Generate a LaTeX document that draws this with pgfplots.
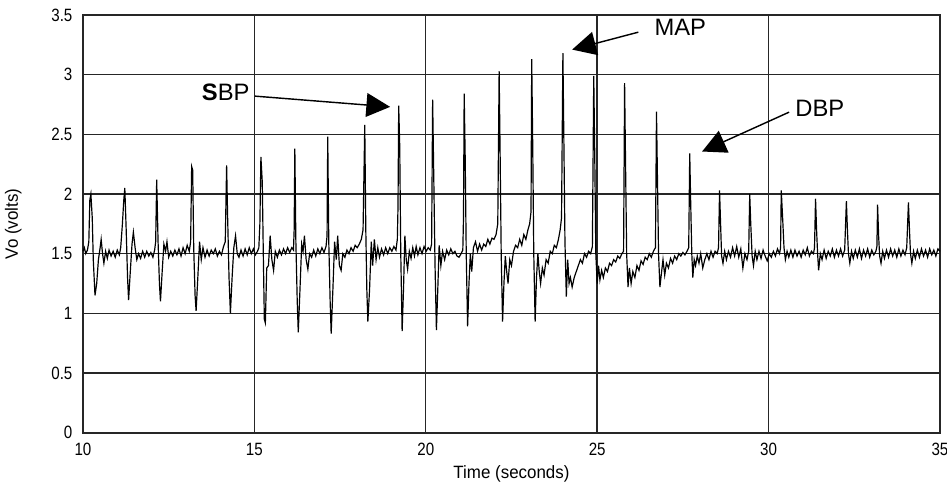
\documentclass[border=0pt]{standalone}
\usepackage{fontspec}
\setmainfont{Liberation Sans}
\newfontfamily\narrowfont[FakeStretch=0.85]{Liberation Sans}
\newfontfamily\labelfont[FakeStretch=0.95]{Liberation Sans}
\usepackage{pgfplots}
\pgfplotsset{compat=1.18}
\usetikzlibrary{arrows.meta}

\begin{document}
\begin{tikzpicture}
\begin{axis}[
  name=main,
  scale only axis,
  width=12.68cm, height=6.18cm,
  xmin=10, xmax=35, ymin=0, ymax=3.5,
  xtick={10,15,20,25,30,35},
  ytick={0,0.5,1,1.5,2,2.5,3,3.5},
  yticklabels={0,0.5,1,1.5,2,2.5,3,3.5},
  grid=major, grid style={black!85,line width=0.6pt},
  axis line style={black!85,line width=0.8pt},
  major tick length=0pt,
  tick label style={font=\narrowfont\fontsize{7.5}{8}\selectfont, inner sep=0pt},
  xticklabel style={anchor=center, yshift=-0.25cm},
  yticklabel style={anchor=east, xshift=-0.15cm},
  /pgf/number format/assume math mode=true,
  xlabel={Time (seconds)}, ylabel={Vo (volts)},
  xlabel style={at={(rel axis cs:0.5,0)}, anchor=center, yshift=-0.61cm,
    font=\labelfont\fontsize{7.5}{8}\selectfont, inner sep=0pt},
  ylabel style={at={(rel axis cs:0,0.5)}, anchor=center, rotate=0, yshift=1.03cm,
    font=\labelfont\fontsize{7.5}{8}\selectfont, inner sep=0pt},
  clip=false]

\addplot[black, line width=0.5pt] coordinates {
(10.00,1.52) (10.04,1.55) (10.08,1.50) (10.13,1.53) (10.17,1.60) (10.20,1.95) (10.23,2.00) (10.27,1.80) (10.30,1.45) (10.35,1.15) (10.40,1.25) (10.45,1.45) (10.50,1.55) (10.53,1.62) (10.57,1.50) (10.61,1.42) (10.66,1.52) (10.71,1.46) (10.76,1.53) (10.82,1.48) (10.88,1.52) (10.94,1.47) (11.00,1.53) (11.06,1.49)
(11.10,1.55) (11.15,1.75) (11.19,1.95) (11.22,2.05) (11.26,1.70) (11.30,1.30) (11.33,1.11) (11.38,1.35) (11.43,1.58) (11.47,1.68) (11.52,1.55) (11.57,1.45) (11.62,1.50) (11.68,1.46) (11.74,1.52) (11.80,1.47) (11.86,1.52) (11.92,1.48) (11.98,1.51) (12.04,1.47) (12.09,1.53)
(12.12,1.60) (12.15,2.12) (12.19,1.60) (12.23,1.25) (12.26,1.10) (12.31,1.35) (12.36,1.58) (12.41,1.52) (12.45,1.60) (12.50,1.47) (12.56,1.52) (12.62,1.48) (12.68,1.53) (12.74,1.49) (12.80,1.54) (12.86,1.48) (12.92,1.55) (12.98,1.50) (13.04,1.57) (13.10,1.52)
(13.14,1.60) (13.17,2.23) (13.20,2.20) (13.23,1.55) (13.27,1.15) (13.30,1.02) (13.35,1.30) (13.40,1.60) (13.45,1.45) (13.50,1.55) (13.56,1.47) (13.62,1.53) (13.68,1.48) (13.74,1.53) (13.80,1.50) (13.86,1.54) (13.92,1.48) (13.98,1.52) (14.04,1.49) (14.10,1.56)
(14.15,1.60) (14.19,2.24) (14.22,1.80) (14.26,1.30) (14.30,1.00) (14.35,1.30) (14.40,1.55) (14.45,1.65) (14.50,1.50) (14.55,1.47) (14.61,1.53) (14.67,1.48) (14.73,1.54) (14.79,1.49) (14.85,1.55) (14.91,1.50) (14.97,1.54) (15.03,1.49) (15.09,1.52) (15.13,1.55)
(15.16,1.75) (15.19,2.31) (15.23,2.10) (15.26,1.50) (15.29,0.95) (15.32,0.92) (15.36,1.38) (15.41,1.40) (15.46,1.65) (15.51,1.45) (15.56,1.36) (15.61,1.52) (15.67,1.47) (15.73,1.53) (15.79,1.49) (15.85,1.54) (15.91,1.50) (15.97,1.55) (16.03,1.51) (16.09,1.55) (16.14,1.53)
(16.16,1.70) (16.18,2.38) (16.21,1.60) (16.25,1.10) (16.28,0.84) (16.33,1.20) (16.38,1.58) (16.42,1.52) (16.46,1.65) (16.51,1.45) (16.56,1.37) (16.61,1.50) (16.67,1.47) (16.73,1.53) (16.79,1.48) (16.85,1.54) (16.91,1.50) (16.97,1.55) (17.03,1.51) (17.09,1.56)
(17.12,1.65) (17.14,2.48) (17.17,1.60) (17.21,1.10) (17.24,0.83) (17.29,1.20) (17.34,1.60) (17.39,1.45) (17.43,1.65) (17.48,1.40) (17.53,1.36) (17.58,1.50) (17.64,1.47) (17.70,1.53) (17.76,1.50) (17.82,1.55) (17.88,1.52) (17.94,1.57) (18.00,1.55) (18.06,1.58) (18.12,1.62) (18.17,1.70)
(18.22,2.58) (18.25,1.70) (18.28,1.20) (18.31,0.93) (18.36,1.20) (18.41,1.60) (18.45,1.40) (18.50,1.62) (18.55,1.45) (18.60,1.55) (18.65,1.47) (18.71,1.54) (18.77,1.49) (18.83,1.55) (18.89,1.50) (18.95,1.55) (19.01,1.52) (19.07,1.56) (19.13,1.53) (19.17,1.62)
(19.19,1.90) (19.21,2.74) (19.24,2.40) (19.27,1.50) (19.31,0.85) (19.35,1.20) (19.39,1.65) (19.43,1.45) (19.47,1.37) (19.52,1.52) (19.57,1.46) (19.62,1.55) (19.67,1.48) (19.72,1.56) (19.77,1.49) (19.83,1.55) (19.89,1.50) (19.95,1.56) (20.01,1.52) (20.07,1.55) (20.13,1.53) (20.17,1.58)
(20.20,2.79) (20.23,2.20) (20.27,1.40) (20.31,0.86) (20.35,1.20) (20.39,1.57) (20.44,1.40) (20.49,1.52) (20.55,1.45) (20.61,1.53) (20.67,1.49) (20.73,1.54) (20.79,1.50) (20.85,1.52) (20.91,1.48) (20.97,1.47) (21.03,1.50) (21.08,1.53)
(21.10,1.80) (21.12,2.84) (21.15,2.30) (21.18,1.50) (21.22,0.89) (21.26,1.25) (21.30,1.50) (21.34,1.35) (21.39,1.55) (21.45,1.60) (21.51,1.52) (21.57,1.58) (21.63,1.53) (21.69,1.58) (21.75,1.56) (21.81,1.62) (21.87,1.58) (21.93,1.63) (21.99,1.62) (22.05,1.66) (22.10,1.75)
(22.14,3.03) (22.17,2.30) (22.20,1.50) (22.24,0.93) (22.28,1.25) (22.32,1.48) (22.36,1.35) (22.40,1.25) (22.45,1.45) (22.50,1.40) (22.56,1.52) (22.62,1.57) (22.68,1.55) (22.74,1.62) (22.80,1.57) (22.86,1.66) (22.92,1.62) (22.98,1.70) (23.03,1.75) (23.07,1.85)
(23.09,3.13) (23.12,2.40) (23.15,1.50) (23.19,0.93) (23.23,1.30) (23.27,1.50) (23.31,1.35) (23.35,1.25) (23.40,1.38) (23.45,1.32) (23.51,1.45) (23.57,1.42) (23.63,1.52) (23.69,1.50) (23.75,1.57) (23.81,1.55) (23.87,1.62) (23.92,1.70) (23.96,1.80)
(24.00,3.18) (24.03,2.40) (24.06,1.60) (24.10,1.14) (24.14,1.45) (24.18,1.25) (24.22,1.30) (24.27,1.22) (24.33,1.30) (24.39,1.35) (24.45,1.40) (24.51,1.45) (24.57,1.42) (24.63,1.50) (24.69,1.47) (24.75,1.52) (24.81,1.50) (24.86,1.56)
(24.90,2.99) (24.93,2.30) (24.96,1.50) (25.00,1.25) (25.04,1.40) (25.08,1.28) (25.13,1.36) (25.18,1.30) (25.24,1.38) (25.30,1.35) (25.36,1.42) (25.42,1.40) (25.48,1.45) (25.54,1.43) (25.60,1.48) (25.66,1.46) (25.72,1.50) (25.77,1.52)
(25.80,2.93) (25.83,2.20) (25.86,1.50) (25.90,1.22) (25.94,1.38) (25.99,1.25) (26.04,1.35) (26.10,1.30) (26.16,1.40) (26.22,1.36) (26.28,1.44) (26.34,1.41) (26.40,1.47) (26.46,1.45) (26.52,1.50) (26.58,1.47) (26.64,1.52) (26.70,1.55)
(26.73,2.69) (26.76,2.10) (26.79,1.50) (26.83,1.22) (26.88,1.35) (26.92,1.45) (26.97,1.32) (27.02,1.42) (27.08,1.38) (27.14,1.46) (27.20,1.42) (27.26,1.48) (27.32,1.45) (27.38,1.50) (27.44,1.48) (27.50,1.51) (27.56,1.49) (27.62,1.52) (27.67,1.55)
(27.70,2.34) (27.73,1.90) (27.76,1.50) (27.79,1.30) (27.83,1.45) (27.87,1.40) (27.92,1.48) (27.97,1.42) (28.02,1.50) (28.08,1.38) (28.14,1.45) (28.20,1.50) (28.26,1.45) (28.32,1.52) (28.38,1.47) (28.44,1.52) (28.50,1.50) (28.54,1.55)
(28.57,2.03) (28.60,1.75) (28.63,1.48) (28.67,1.42) (28.72,1.52) (28.77,1.45) (28.83,1.52) (28.89,1.47) (28.95,1.55) (29.01,1.48) (29.07,1.56) (29.13,1.47) (29.19,1.54) (29.25,1.38) (29.31,1.50) (29.37,1.45) (29.42,1.52)
(29.45,2.00) (29.48,1.75) (29.52,1.48) (29.56,1.40) (29.61,1.52) (29.66,1.45) (29.72,1.52) (29.78,1.46) (29.84,1.53) (29.90,1.48) (29.96,1.44) (30.02,1.50) (30.08,1.47) (30.14,1.52) (30.20,1.48) (30.26,1.54) (30.32,1.50) (30.35,1.55)
(30.37,2.03) (30.41,1.80) (30.45,1.55) (30.49,1.45) (30.54,1.52) (30.59,1.47) (30.65,1.53) (30.71,1.47) (30.77,1.53) (30.83,1.48) (30.89,1.52) (30.95,1.47) (31.01,1.53) (31.07,1.49) (31.13,1.55) (31.19,1.48) (31.25,1.52) (31.31,1.50) (31.34,1.55)
(31.37,1.96) (31.40,1.70) (31.43,1.50) (31.46,1.36) (31.51,1.50) (31.56,1.45) (31.62,1.53) (31.68,1.46) (31.74,1.52) (31.80,1.48) (31.86,1.54) (31.92,1.47) (31.98,1.53) (32.04,1.48) (32.10,1.54) (32.16,1.48) (32.22,1.53)
(32.27,1.94) (32.30,1.70) (32.33,1.50) (32.37,1.42) (32.42,1.52) (32.47,1.46) (32.53,1.53) (32.59,1.47) (32.65,1.54) (32.71,1.46) (32.77,1.53) (32.83,1.48) (32.89,1.54) (32.95,1.47) (33.01,1.53) (33.07,1.49) (33.13,1.52) (33.16,1.56)
(33.18,1.91) (33.21,1.65) (33.24,1.48) (33.28,1.42) (33.33,1.52) (33.38,1.46) (33.44,1.53) (33.50,1.47) (33.56,1.54) (33.62,1.48) (33.68,1.53) (33.74,1.47) (33.80,1.54) (33.86,1.48) (33.92,1.53) (33.98,1.49) (34.03,1.55)
(34.08,1.93) (34.11,1.70) (34.14,1.50) (34.18,1.42) (34.23,1.52) (34.28,1.46) (34.34,1.53) (34.40,1.47) (34.46,1.54) (34.52,1.48) (34.58,1.53) (34.64,1.47) (34.70,1.54) (34.76,1.49) (34.82,1.53) (34.88,1.48) (34.94,1.54) (35.00,1.52)
};

% annotations
\node[anchor=east, inner sep=0pt, font=\fontsize{10}{12}\selectfont] at (axis cs:14.87,2.85) {\textbf{S}BP};
\draw[line width=0.6pt, -{Triangle[length=10pt,width=10pt]}] (axis cs:15.02,2.82) -- (axis cs:18.96,2.73);
\node[anchor=west, inner sep=0pt, font=\fontsize{10}{12}\selectfont] at (axis cs:26.66,3.40) {MAP};
\draw[line width=0.6pt, -{Triangle[length=10pt,width=10pt]}] (axis cs:26.20,3.356) -- (axis cs:24.27,3.21);
\node[anchor=west, inner sep=0pt, font=\fontsize{10}{12}\selectfont] at (axis cs:30.77,2.72) {DBP};
\draw[line width=0.6pt, -{Triangle[length=10pt,width=10pt]}] (axis cs:30.60,2.686) -- (axis cs:28.06,2.356);
\end{axis}
\pgfresetboundingbox
\path ([shift={(-1.228cm,-0.784cm)}]main.south west) rectangle ([shift={(0.104cm,0.222cm)}]main.north east);
\end{tikzpicture}
\end{document}
